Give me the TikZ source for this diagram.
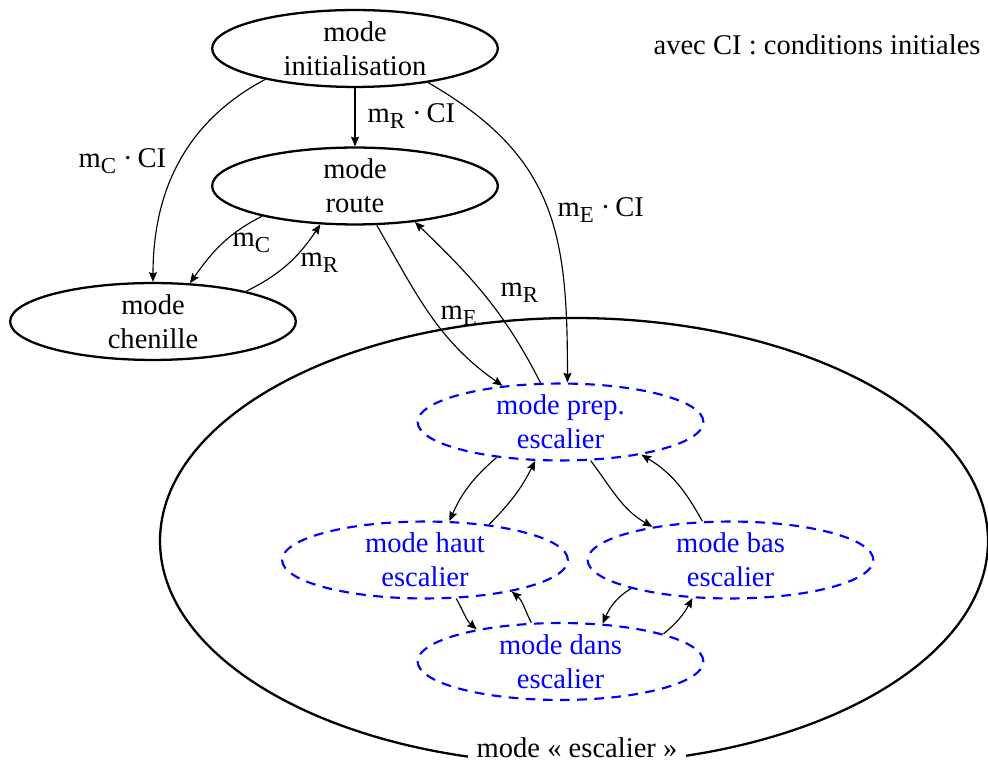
\documentclass[tikz,border=0pt]{standalone}
\usepackage{fontspec}
\setmainfont{Liberation Serif}
\usetikzlibrary{shapes.geometric,arrows.meta}

% lowered index letter for the mode variables
\newcommand\idx[1]{\raisebox{-2.1pt}{\footnotesize #1}}
\newcommand\dotop{\hspace{0.25em}·\hspace{0.17em}}

\begin{document}
\begin{tikzpicture}[
  x=0.35pt, y=0.35pt,
  modebox/.style={ellipse, draw, line width=0.8pt, minimum width=100pt,
    minimum height=26.8pt, inner sep=0pt, align=center},
  submode/.style={modebox, draw=blue, text=blue, line width=0.75pt,
    dash pattern=on 3.4pt off 2.6pt},
  trans/.style={-{Stealth[length=3.4pt,width=2.8pt,inset=0.5pt]}, line width=0.4pt},
  lbl/.style={anchor=base west, inner sep=0pt}
]
\useasboundingbox (0,0) rectangle (988,760);

% enclosing "escalier" super-state
\node[draw, ellipse, line width=0.8pt, minimum width=289.8pt,
      minimum height=156.1pt, inner sep=0pt] (esc) at (574,219) {};
\node[fill=white, inner sep=3pt, anchor=base] (escl) at (577,3) {mode « escalier »};

% top-level modes
\node[modebox] (init) at (355,711.5) {mode\\initialisation};
\node[modebox] (route) at (355,574) {mode\\route};
\node[modebox] (chen) at (153,438.5) {mode\\chenille};

% sub-modes of the stair mode
\node[submode] (prep) at (560.5,338) {mode prep.\\escalier};
\node[submode] (haut) at (425,200) {mode haut\\escalier};
\node[submode] (bas) at (730.5,200) {mode bas\\escalier};
\node[submode] (dans) at (560.5,98.5) {mode dans\\escalier};

% legend
\node[lbl] (legend) at (653,705) {avec CI : conditions initiales};

% transitions from initialisation
\draw[trans] (init) -- (route);
\draw[trans] (init.199) to[out=208, in=90] (chen.north);
\draw[trans] (init.335) to[out=330, in=90, looseness=1.15] (prep.80);

% transitions between top-level modes
\draw[trans] (route.198) to[out=207, in=55] (chen.46);
\draw[trans] (chen.18) to[out=26, in=236] (route.228);
\draw[trans] (route.299) to[out=300, in=145] (prep.148);
\draw[trans] (prep.117) to[out=117, in=316] (route.329);

% transitions inside the stair mode
\draw[trans] (prep.209) to[out=221, in=66] (haut.58);
\draw[trans] (haut.29) to[out=45, in=243] (prep.237);
\draw[trans] (prep.308) to[out=307, in=150] (bas.157);
\draw[trans] (bas.126) to[out=119, in=329] (prep.338);
\draw[trans] (haut.309) to[out=300, in=139] (dans.159);
\draw[trans] (dans.127) to[out=117, in=320] (haut.340);
\draw[trans] (bas.196) to[out=212, in=66] (dans.42);
\draw[trans] (dans.15) to[out=40, in=242] (bas.225);

% transition labels
\node[lbl] (l1) at (367,637) {m\idx{R}\dotop CI};
\node[lbl] (l2) at (78,592) {m\idx{C}\dotop CI};
\node[lbl] (l3) at (557,543) {m\idx{E}\dotop CI};
\node[lbl] (l4) at (232,513) {m\idx{C}};
\node[lbl] (l5) at (300,493) {m\idx{R}};
\node[lbl] (l6) at (440,440) {m\idx{E}};
\node[lbl] (l7) at (500,463) {m\idx{R}};
\end{tikzpicture}
\end{document}
